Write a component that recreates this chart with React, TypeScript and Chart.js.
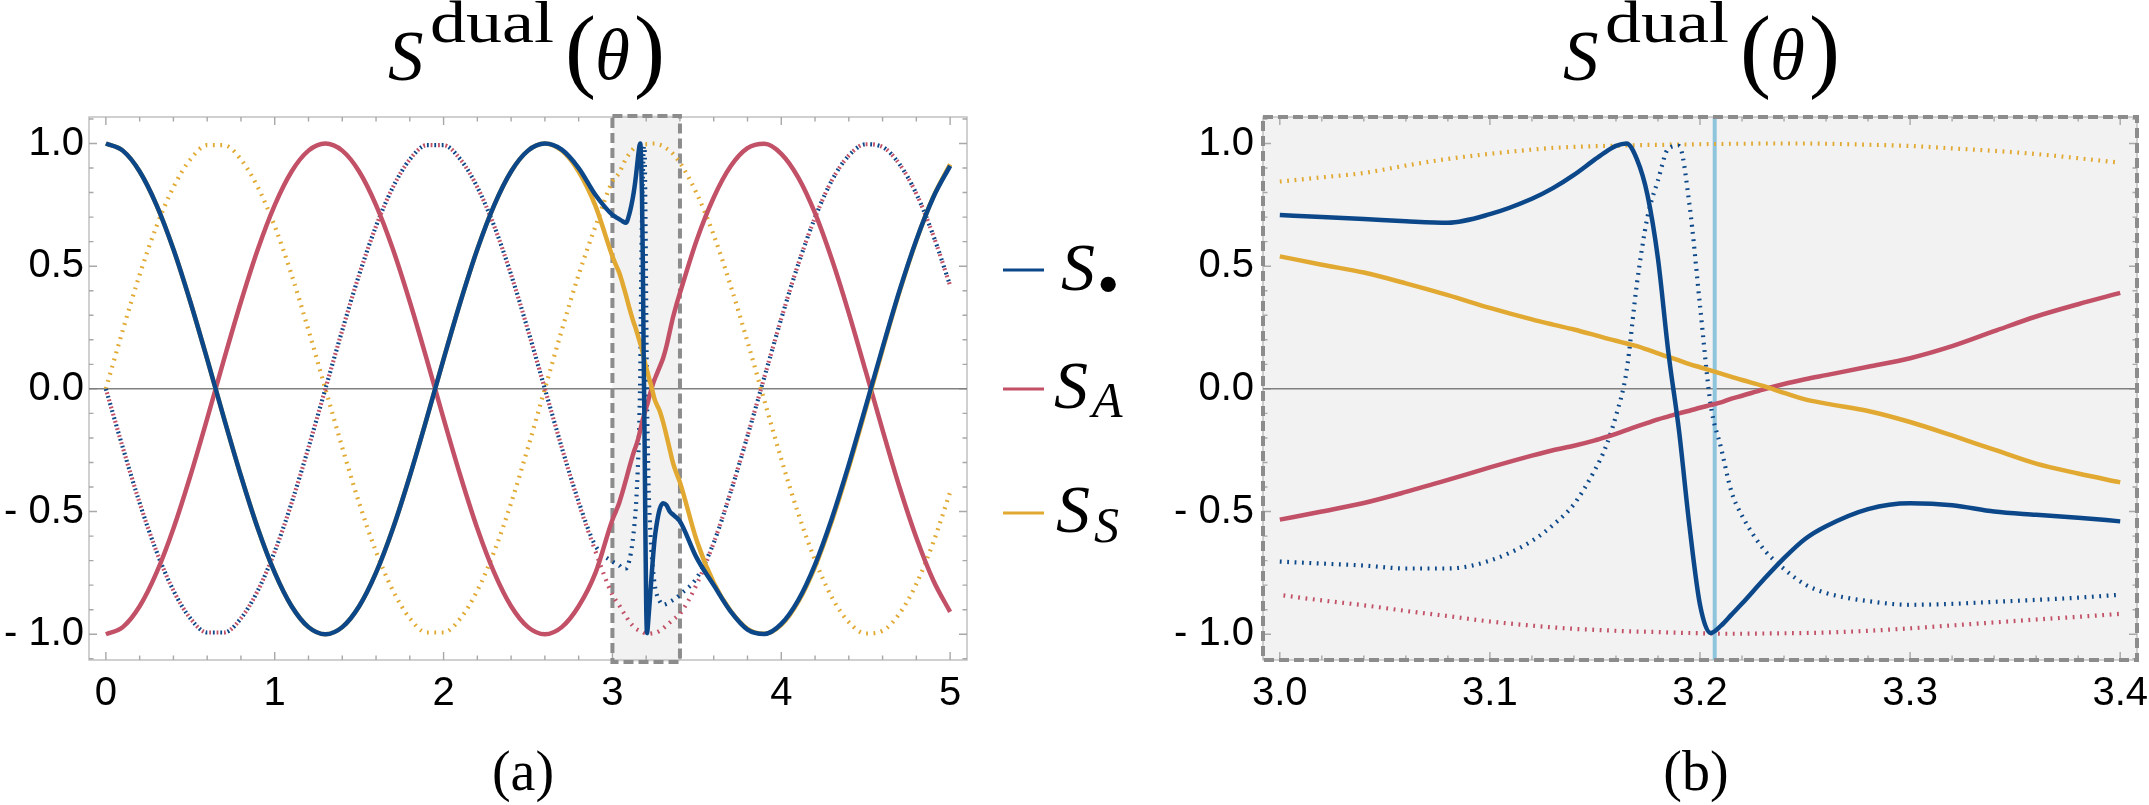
import React, { useEffect, useRef } from 'react';
import { Chart, registerables } from 'chart.js';
Chart.register(...registerables);

// ---------- data ----------
const thetaCoarse = [
  0, 0.1, 0.2, 0.3, 0.4, 0.5, 0.6, 0.7, 0.8, 0.9,
  1.0, 1.1, 1.2, 1.3, 1.4, 1.5, 1.6, 1.7, 1.8, 1.9,
  2.0, 2.1, 2.2, 2.3, 2.4, 2.5, 2.6, 2.7, 2.8, 2.9,
  3.0, 3.1, 3.2, 3.3, 3.4, 3.5, 3.6, 3.7, 3.8, 3.9,
  4.0, 4.1, 4.2, 4.3, 4.4, 4.5, 4.6, 4.7, 4.8, 4.9, 5.0,
];
// S_• solid
const sDotCoarse = [
  1.0, 0.971, 0.886, 0.749, 0.569, 0.355, 0.121, -0.121, -0.355, -0.569,
  -0.749, -0.886, -0.971, -1.0, -0.971, -0.886, -0.749, -0.569, -0.355, -0.121,
  0.121, 0.355, 0.569, 0.749, 0.886, 0.971, 1.0, 0.975, 0.9, 0.79,
  0.709, 0.712, -0.89, -0.466, -0.54, -0.69, -0.8, -0.907, -0.981, -0.999,
  -0.958, -0.862, -0.716, -0.527, -0.309, -0.072, 0.168, 0.4, 0.607, 0.78, 0.909,
];
// S_A solid
const sACoarse = [
  -1.0, -0.971, -0.886, -0.749, -0.569, -0.355, -0.121, 0.121, 0.355, 0.569,
  0.749, 0.886, 0.971, 1.0, 0.971, 0.886, 0.749, 0.569, 0.355, 0.121,
  -0.121, -0.355, -0.569, -0.749, -0.886, -0.971, -1.0, -0.971, -0.886, -0.749,
  -0.533, -0.32, -0.077, 0.125, 0.391, 0.608, 0.78, 0.907, 0.981, 0.999,
  0.958, 0.862, 0.716, 0.527, 0.309, 0.072, -0.168, -0.4, -0.607, -0.78, -0.909,
];
// S_S solid
const sSCoarse = [
  1.0, 0.971, 0.886, 0.749, 0.569, 0.355, 0.121, -0.121, -0.355, -0.569,
  -0.749, -0.886, -0.971, -1.0, -0.971, -0.886, -0.749, -0.569, -0.355, -0.121,
  0.121, 0.355, 0.569, 0.749, 0.886, 0.971, 1.0, 0.971, 0.886, 0.745,
  0.54, 0.33, 0.088, -0.13, -0.381, -0.62, -0.79, -0.905, -0.978, -0.998,
  -0.962, -0.868, -0.725, -0.538, -0.32, -0.083, 0.16, 0.395, 0.605, 0.782, 0.915,
];
// S_• dotted
const pDotCoarse = [
  0.0, -0.239, -0.465, -0.663, -0.822, -0.935, -0.993, -0.993, -0.935, -0.822,
  -0.663, -0.465, -0.239, 0.0, 0.239, 0.465, 0.663, 0.822, 0.935, 0.993,
  0.993, 0.935, 0.822, 0.663, 0.465, 0.239, 0.0, -0.239, -0.46, -0.64,
  -0.704, -0.7, 0.34, -0.88, -0.839, -0.77, -0.627, -0.421, -0.192, 0.048,
  0.286, 0.507, 0.698, 0.85, 0.951, 0.997, 0.986, 0.916, 0.795, 0.626, 0.421,
];
// S_A dotted
const pACoarse = [
  0.0, -0.239, -0.465, -0.663, -0.822, -0.935, -0.993, -0.993, -0.935, -0.822,
  -0.663, -0.465, -0.239, 0.0, 0.239, 0.465, 0.663, 0.822, 0.935, 0.993,
  0.993, 0.935, 0.822, 0.663, 0.465, 0.239, 0.0, -0.239, -0.465, -0.663,
  -0.84, -0.948, -0.996, -0.976, -0.917, -0.795, -0.627, -0.421, -0.192, 0.048,
  0.286, 0.507, 0.698, 0.85, 0.951, 0.997, 0.986, 0.916, 0.795, 0.626, 0.421,
];
// S_S dotted
const pSCoarse = [
  0.0, 0.239, 0.465, 0.663, 0.822, 0.935, 0.993, 0.993, 0.935, 0.822,
  0.663, 0.465, 0.239, 0.0, -0.239, -0.465, -0.663, -0.822, -0.935, -0.993,
  -0.993, -0.935, -0.822, -0.663, -0.465, -0.239, 0.0, 0.239, 0.465, 0.663,
  0.845, 0.958, 0.997, 0.99, 0.922, 0.795, 0.627, 0.421, 0.192, -0.048,
  -0.286, -0.507, -0.698, -0.85, -0.951, -0.997, -0.986, -0.916, -0.795, -0.626, -0.421,
];

// zoomed window 3.0 – 3.4
const thetaFine = [
  3.0, 3.02, 3.04, 3.06, 3.08, 3.1, 3.12, 3.13, 3.14, 3.15,
  3.155, 3.16, 3.165, 3.17, 3.175, 3.18, 3.185, 3.19, 3.195, 3.2,
  3.205, 3.21, 3.215, 3.22, 3.23, 3.24, 3.25, 3.26,
  3.28, 3.3, 3.32, 3.34, 3.36, 3.38, 3.4,
];
const sDotFine = [
  0.709, 0.7, 0.692, 0.683, 0.677, 0.712, 0.775, 0.818, 0.872, 0.935,
  0.965, 0.99, 1.0, 0.935, 0.79, 0.53, 0.145, -0.17, -0.56, -0.88,
  -0.995, -0.965, -0.92, -0.875, -0.78, -0.69, -0.612, -0.56,
  -0.49, -0.466, -0.474, -0.5, -0.513, -0.525, -0.54,
];
const sAFine = [
  -0.533, -0.5, -0.465, -0.42, -0.371, -0.32, -0.272, -0.25, -0.232, -0.21,
  -0.197, -0.183, -0.168, -0.153, -0.139, -0.124, -0.112, -0.1, -0.089, -0.077,
  -0.066, -0.055, -0.04, -0.028, -0.003, 0.02, 0.039, 0.056,
  0.09, 0.125, 0.174, 0.235, 0.295, 0.345, 0.391,
];
const sSFine = [
  0.54, 0.506, 0.474, 0.43, 0.382, 0.33, 0.283, 0.262, 0.242, 0.219,
  0.207, 0.196, 0.185, 0.174, 0.16, 0.145, 0.13, 0.116, 0.101, 0.088,
  0.075, 0.062, 0.049, 0.036, 0.012, -0.016, -0.043, -0.06,
  -0.09, -0.135, -0.19, -0.248, -0.305, -0.345, -0.381,
];
const pDotFine = [
  -0.704, -0.712, -0.72, -0.732, -0.732, -0.7, -0.62, -0.555, -0.47, -0.33,
  -0.24, -0.11, 0.07, 0.43, 0.7, 0.85, 0.98, 0.99, 0.75, 0.34,
  -0.06, -0.24, -0.42, -0.517, -0.65, -0.734, -0.797, -0.832,
  -0.865, -0.88, -0.876, -0.868, -0.86, -0.851, -0.839,
];
const pAFine = [
  -0.84, -0.862, -0.882, -0.905, -0.926, -0.948, -0.965, -0.972, -0.978, -0.982,
  -0.984, -0.986, -0.988, -0.989, -0.99, -0.991, -0.993, -0.994, -0.995, -0.996,
  -0.997, -0.998, -0.998, -0.998, -0.997, -0.996, -0.995, -0.993,
  -0.986, -0.976, -0.964, -0.952, -0.94, -0.929, -0.917,
];
const pSFine = [
  0.845, 0.862, 0.88, 0.91, 0.937, 0.958, 0.975, 0.982, 0.986, 0.989,
  0.99, 0.991, 0.992, 0.993, 0.994, 0.994, 0.995, 0.996, 0.996, 0.997,
  0.998, 0.998, 0.999, 0.999, 1.0, 1.0, 1.0, 0.999,
  0.995, 0.99, 0.98, 0.97, 0.957, 0.94, 0.922,
];

const yTickValues = [-1, -0.5, 0, 0.5, 1];
const yTickLabels = ['- 1.0', '- 0.5', '0.0', '0.5', '1.0'];
const xTickValuesA = [0, 1, 2, 3, 4, 5];
const xTickLabelsA = ['0', '1', '2', '3', '4', '5'];
const xTickValuesB = [3.0, 3.1, 3.2, 3.3, 3.4];
const xTickLabelsB = ['3.0', '3.1', '3.2', '3.3', '3.4'];
const insetWindow = [3.0, 3.4];
const markerTheta = 3.207;

// ---------- styling ----------
const C_DOT = '#0c4889';
const C_A = '#c25167';
const C_S = '#e1a931';
const C_MARK = '#8fc4dd';
const TICK_FONT = "'Liberation Sans'";
const SERIF = 'Liberation Serif';

type Pt = { x: number; y: number };
const fineOnly = (vals: number[]): Pt[] => thetaFine.map((t, i) => ({ x: t, y: vals[i] }));
function merged(coarse: number[], fine: number[]): Pt[] {
  const lo = thetaFine[0];
  const hi = thetaFine[thetaFine.length - 1];
  const pts: Pt[] = [];
  thetaCoarse.forEach((t, i) => { if (t < lo - 1e-9) pts.push({ x: t, y: coarse[i] }); });
  pts.push(...fineOnly(fine));
  thetaCoarse.forEach((t, i) => { if (t > hi + 1e-9) pts.push({ x: t, y: coarse[i] }); });
  return pts;
}

function makeDatasets(panel: 'a' | 'b') {
  const get = (c: number[], f: number[]) => (panel === 'a' ? merged(c, f) : fineOnly(f));
  const sw = 4.5;
  const dw = 4.2;
  const dash = [1.8, 5.6];
  const list: any[] = [
    { label: 'S•', data: get(sDotCoarse, sDotFine), borderColor: C_DOT, borderWidth: sw },
    { label: 'S_S', data: get(sSCoarse, sSFine), borderColor: C_S, borderWidth: sw },
    { label: 'S_A', data: get(sACoarse, sAFine), borderColor: C_A, borderWidth: sw },
    { label: 'S• dotted', data: get(pDotCoarse, pDotFine), borderColor: C_DOT, borderWidth: dw, borderDash: dash },
    { label: 'S_A dotted', data: get(pACoarse, pAFine), borderColor: C_A, borderWidth: dw, borderDash: dash, borderDashOffset: 3.7 },
    { label: 'S_S dotted', data: get(pSCoarse, pSFine), borderColor: C_S, borderWidth: dw, borderDash: dash },
  ];
  return list.map((d) => ({
    ...d,
    pointRadius: 0,
    fill: false,
    cubicInterpolationMode: 'monotone',
    borderCapStyle: 'butt',
    borderJoinStyle: 'round',
  }));
}

function tickList(majors: number[], div: number, min: number, max: number) {
  const step = (majors[1] - majors[0]) / div;
  const out: { v: number; major: boolean }[] = [];
  const n0 = Math.ceil((min - majors[0]) / step - 1e-9);
  const n1 = Math.floor((max - majors[0]) / step + 1e-9);
  for (let n = n0; n <= n1; n++) {
    const v = majors[0] + n * step;
    out.push({ v, major: n % div === 0 });
  }
  return out;
}

const framePlugin = {
  id: 'mFrame',
  beforeDatasetsDraw(chart: any, _a: any, o: any) {
    const { ctx, chartArea: ca } = chart;
    const xs = chart.scales.x;
    const ys = chart.scales.y;
    ctx.save();
    if (o.fillAll) {
      ctx.fillStyle = '#f2f2f2';
      ctx.fillRect(ca.left, ca.top, ca.right - ca.left, ca.bottom - ca.top);
    }
    if (o.inset) {
      const x0 = xs.getPixelForValue(o.inset[0]);
      const x1 = xs.getPixelForValue(o.inset[1]);
      ctx.fillStyle = '#f2f2f2';
      ctx.fillRect(x0, ca.top - 2, x1 - x0, ca.bottom - ca.top + 4);
    }
    ctx.strokeStyle = '#bdbdbd';
    ctx.lineWidth = 1.4;
    ctx.strokeRect(ca.left, ca.top, ca.right - ca.left, ca.bottom - ca.top);
    ctx.strokeStyle = '#a8a8a8';
    ctx.beginPath();
    for (const t of tickList(o.xMajor, 5, xs.min, xs.max)) {
      const px = xs.getPixelForValue(t.v);
      const L = t.major ? 8 : 4.5;
      ctx.moveTo(px, ca.bottom); ctx.lineTo(px, ca.bottom - L);
      ctx.moveTo(px, ca.top); ctx.lineTo(px, ca.top + L);
    }
    for (const t of tickList(yTickValues, 5, ys.min, ys.max)) {
      const py = ys.getPixelForValue(t.v);
      const L = t.major ? 8 : 4.5;
      ctx.moveTo(ca.left, py); ctx.lineTo(ca.left + L, py);
      ctx.moveTo(ca.right, py); ctx.lineTo(ca.right - L, py);
    }
    ctx.stroke();
    // zero axis
    const y0 = ys.getPixelForValue(0);
    ctx.strokeStyle = '#808080';
    ctx.lineWidth = 1.5;
    ctx.beginPath();
    ctx.moveTo(ca.left, y0); ctx.lineTo(ca.right, y0);
    ctx.stroke();
    if (o.marker != null) {
      const mx = xs.getPixelForValue(o.marker);
      ctx.strokeStyle = C_MARK;
      ctx.lineWidth = 4;
      ctx.beginPath();
      ctx.moveTo(mx, ca.top); ctx.lineTo(mx, ca.bottom);
      ctx.stroke();
    }
    if (o.inset) {
      const x0 = xs.getPixelForValue(o.inset[0]);
      const x1 = xs.getPixelForValue(o.inset[1]);
      ctx.strokeStyle = '#8c8c8c';
      ctx.lineWidth = 4;
      ctx.setLineDash([10, 5]);
      ctx.strokeRect(x0, ca.top - 1, x1 - x0, ca.bottom - ca.top + 3);
    }
    ctx.restore();
  },
  afterDatasetsDraw(chart: any, _a: any, o: any) {
    if (!o.dashedFrame) return;
    const { ctx, chartArea: ca } = chart;
    ctx.save();
    ctx.strokeStyle = '#8c8c8c';
    ctx.lineWidth = 4;
    ctx.setLineDash([10, 5]);
    ctx.strokeRect(ca.left, ca.top, ca.right - ca.left, ca.bottom - ca.top);
    ctx.restore();
  },
};

function makeConfig(panel: 'a' | 'b'): any {
  const isA = panel === 'a';
  const xTicks = isA ? xTickValuesA : xTickValuesB;
  const xLabels = isA ? xTickLabelsA : xTickLabelsB;
  return {
    type: 'line',
    data: { datasets: makeDatasets(panel) },
    plugins: [framePlugin],
    options: {
      responsive: false,
      animation: false,
      events: [],
      layout: { padding: { left: 0, top: 117, right: isA ? 33 : 12, bottom: 65 } },
      plugins: {
        legend: { display: false },
        tooltip: { enabled: false },
        mFrame: {
          xMajor: xTicks,
          fillAll: !isA,
          inset: isA ? insetWindow : null,
          marker: isA ? null : markerTheta,
          dashedFrame: !isA,
        },
      },
      scales: {
        x: {
          type: 'linear',
          min: isA ? -0.1 : 2.992,
          max: isA ? 5.1 : 3.408,
          grid: { display: false, drawTicks: false },
          border: { display: false },
          afterBuildTicks: (s: any) => { s.ticks = xTicks.map((v) => ({ value: v })); },
          afterFit: (s: any) => { s.height = 80; s.paddingLeft = 0; s.paddingRight = 0; },
          ticks: {
            autoSkip: false, maxRotation: 0, minRotation: 0, padding: 10, color: '#000',
            font: { family: TICK_FONT, size: 40 },
            callback: (_v: any, i: number) => xLabels[i],
          },
        },
        y: {
          type: 'linear',
          min: -1.105,
          max: 1.108,
          grid: { display: false, drawTicks: false },
          border: { display: false },
          afterBuildTicks: (s: any) => { s.ticks = yTickValues.map((v) => ({ value: v })); },
          afterFit: (s: any) => { s.width = isA ? 89 : 113; s.paddingTop = 0; s.paddingBottom = 0; },
          ticks: {
            autoSkip: false, padding: isA ? 5 : 9, color: '#000',
            font: { family: TICK_FONT, size: 40 },
            callback: (_v: any, i: number) => yTickLabels[i],
          },
        },
      },
    },
  };
}

function Title({ x0 }: { x0: number }) {
  return (
    <g fill="#000">
      <text x={x0} y={80} fontFamily={SERIF} fontSize={71} fontStyle="italic">S</text>
      <text x={x0 + 42} y={42} fontFamily={SERIF} fontSize={60} textLength={124} lengthAdjust="spacingAndGlyphs">dual</text>
      <text x={x0 + 177} y={80} fontFamily={SERIF} fontSize={93}>(</text>
      <text x={x0 + 207} y={79} fontFamily={SERIF} fontSize={71} fontStyle="italic">θ</text>
      <text x={x0 + 246} y={80} fontFamily={SERIF} fontSize={93}>)</text>
    </g>
  );
}

export default function App() {
  const refA = useRef<HTMLCanvasElement>(null);
  const refB = useRef<HTMLCanvasElement>(null);
  useEffect(() => {
    const a = new Chart(refA.current as HTMLCanvasElement, makeConfig('a'));
    const b = new Chart(refB.current as HTMLCanvasElement, makeConfig('b'));
    return () => { a.destroy(); b.destroy(); };
  }, []);
  return (
    <div style={{ position: 'fixed', left: 0, top: 0, width: 2149, height: 805, background: '#fff', overflow: 'hidden' }}>
      <canvas ref={refA} width={1000} height={805} style={{ position: 'absolute', left: 0, top: 0, width: 1000, height: 805 }} />
      <canvas ref={refB} width={999} height={805} style={{ position: 'absolute', left: 1150, top: 0, width: 999, height: 805 }} />
      <svg width={2149} height={805} style={{ position: 'absolute', left: 0, top: 0, pointerEvents: 'none' }}>
        <Title x0={388} />
        <Title x0={1563} />
        {/* legend */}
        <g fill="#000">
          <line x1={1003} x2={1044} y1={270} y2={270} stroke={C_DOT} strokeWidth={3} />
          <text x={1061} y={290} fontFamily={SERIF} fontSize={68} fontStyle="italic">S</text>
          <text x={1097} y={306} fontFamily={SERIF} fontSize={64}>•</text>
          <line x1={1003} x2={1044} y1={389} y2={389} stroke={C_A} strokeWidth={3} />
          <text x={1054} y={408} fontFamily={SERIF} fontSize={68} fontStyle="italic">S</text>
          <text x={1092} y={417} fontFamily={SERIF} fontSize={50} fontStyle="italic">A</text>
          <line x1={1003} x2={1044} y1={513} y2={513} stroke={C_S} strokeWidth={3} />
          <text x={1056} y={532} fontFamily={SERIF} fontSize={68} fontStyle="italic">S</text>
          <text x={1094} y={542} fontFamily={SERIF} fontSize={50} fontStyle="italic">S</text>
        </g>
        <g fill="#000" fontSize={56} textAnchor="middle">
          <text x={523} y={790} fontFamily={SERIF}>(a)</text>
          <text x={1696} y={790} fontFamily={SERIF}>(b)</text>
        </g>
      </svg>
    </div>
  );
}
